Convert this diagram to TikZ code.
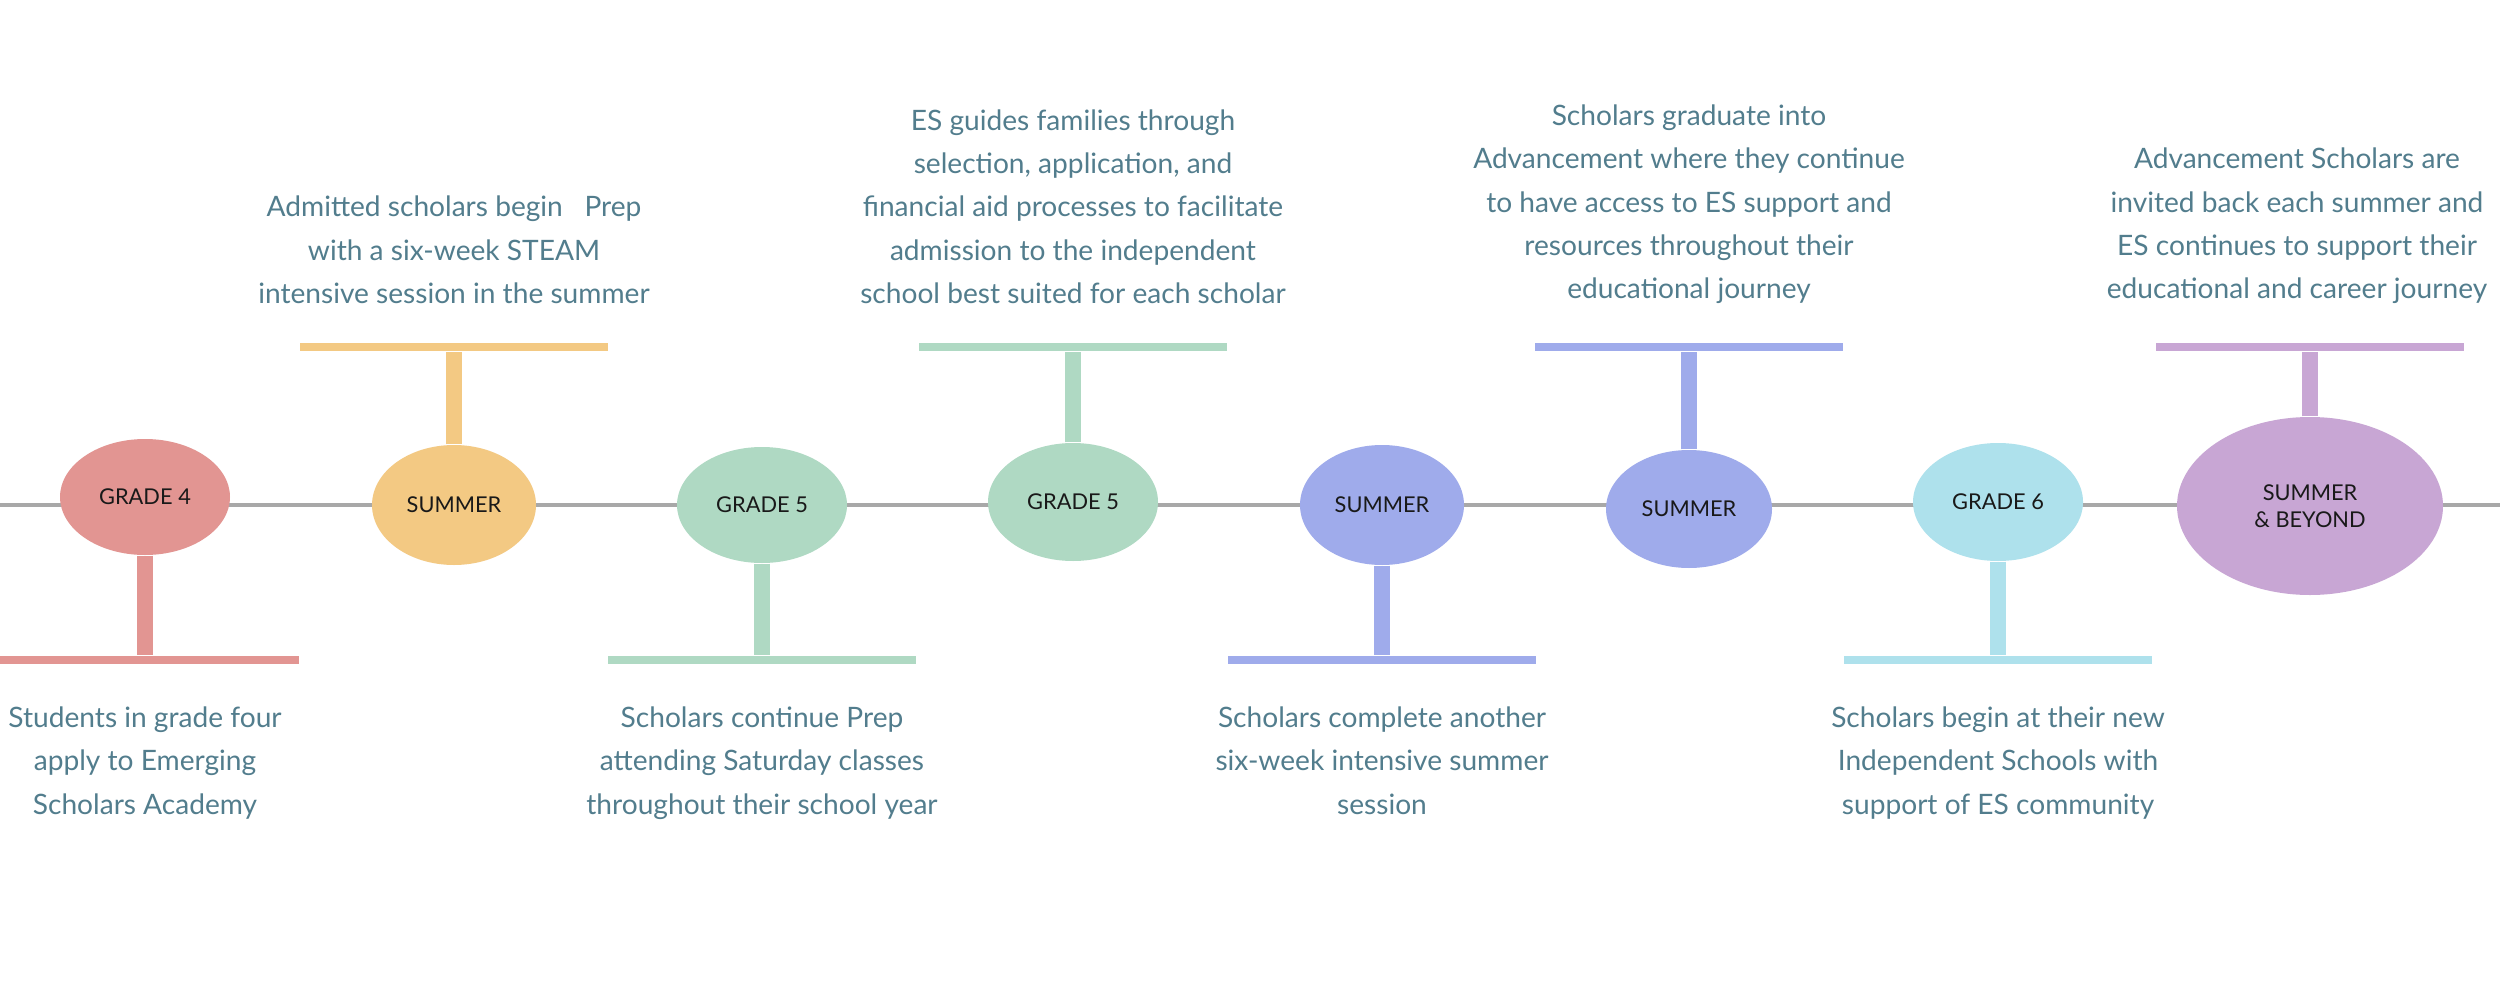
\documentclass[tikz,border=0pt]{standalone}
\usepackage{fontspec}
\setmainfont{Lato}
\usetikzlibrary{
  backgrounds,
  positioning,
  shapes.geometric
}
\definecolor{rose}{RGB}{226,149,146}
\definecolor{sand}{RGB}{243,201,131}
\definecolor{mint}{RGB}{175,217,195}
\definecolor{iris}{RGB}{159,171,235}
\definecolor{sky}{RGB}{174,225,236}
\definecolor{lilac}{RGB}{200,166,212}
\definecolor{slate}{RGB}{82,125,141}
\definecolor{railgray}{RGB}{168,168,168}
\tikzset{
  stage/.style={
    ellipse,
    fill=#1,
    inner sep=0pt,
    minimum width=1.70cm,
    minimum height=1.16cm,
    align=center,
    text=black!90,
    font=\fontsize{6.2}{7.6}\selectfont
  },
  bar/.style={fill=#1,inner sep=0pt,minimum width=3.08cm,minimum height=0.08cm},
  stem/.style={draw=#1,line width=0.16cm},
  rail/.style={draw=railgray,line width=0.035cm},
  note/.style={
    align=center,
    inner sep=0pt,
    text=slate,
    font=\fontsize{8.0}{12.3}\selectfont
  }
}

\begin{document}
\begin{tikzpicture}
  \useasboundingbox (0,0) rectangle (25,-9.99);
  \coordinate (start) at (0,-5.05);
  \coordinate (end) at (25,-5.05);
  \coordinate (high) at (0,-3.47);
  \coordinate (low) at (0,-6.595);

  \node[stage=rose] (grade4) at (1.45,-4.97) {GRADE 4};
  \node[stage=sand,minimum width=1.64cm,minimum height=1.20cm] (summer1) at (4.54,-5.05) {SUMMER};
  \node[stage=mint] (grade5a) at (7.62,-5.05) {GRADE 5};
  \node[stage=mint,minimum height=1.18cm] (grade5b) at (10.73,-5.02) {GRADE 5};
  \node[stage=iris,minimum width=1.64cm,minimum height=1.20cm] (summer2) at (13.82,-5.05) {SUMMER};
  \node[stage=iris,minimum width=1.66cm,minimum height=1.18cm] (summer3) at (16.89,-5.09) {SUMMER};
  \node[stage=sky,minimum height=1.18cm] (grade6) at (19.98,-5.02) {GRADE 6};
  \node[stage=lilac,minimum width=2.66cm,minimum height=1.78cm] (beyond) at (23.10,-5.06) {SUMMER\\\& BEYOND};

  \node[bar=rose] (grade4bar) at (grade4 |- low) {};
  \node[bar=sand] (summer1bar) at (summer1 |- high) {};
  \node[bar=mint] (grade5abar) at (grade5a |- low) {};
  \node[bar=mint] (grade5bbar) at (grade5b |- high) {};
  \node[bar=iris] (summer2bar) at (summer2 |- low) {};
  \node[bar=iris] (summer3bar) at (summer3 |- high) {};
  \node[bar=sky] (grade6bar) at (grade6 |- low) {};
  \node[bar=lilac] (beyondbar) at (beyond |- high) {};

  \node[note,below=0.42cm of grade4bar] (grade4note)
    {Students in grade four\\apply to Emerging\\Scholars Academy};
  \node[note,above=0.38cm of summer1bar] (summer1note)
    {Admitted scholars begin~~~Prep\\with a six-week STEAM\\intensive session in the summer};
  \node[note,below=0.42cm of grade5abar] (grade5anote)
    {Scholars continue Prep\\attending Saturday classes\\throughout their school year};
  \node[note,above=0.38cm of grade5bbar] (grade5bnote)
    {ES guides families through\\selection, application, and\\financial aid processes to facilitate\\admission to the independent\\school best suited for each scholar};
  \node[note,below=0.42cm of summer2bar] (summer2note)
    {Scholars complete another\\six-week intensive summer\\session};
  \node[note,above=0.38cm of summer3bar] (summer3note)
    {Scholars graduate into\\Advancement where they continue\\to have access to ES support and\\resources throughout their\\educational journey};
  \node[note,below=0.42cm of grade6bar] (grade6note)
    {Scholars begin at their new\\Independent Schools with\\support of ES community};
  \node[note,above=0.38cm of beyondbar,xshift=-0.13cm] (beyondnote)
    {Advancement Scholars are\\invited back each summer and\\ES continues to support their\\educational and career journey};

  \begin{scope}[on background layer]
    \fill[white] (0,0) rectangle (25,-9.99);
    \draw[rail] (start) -- (end);
    \draw[stem=rose] (grade4) -- (grade4bar);
    \draw[stem=sand] (summer1) -- (summer1bar);
    \draw[stem=mint] (grade5a) -- (grade5abar);
    \draw[stem=mint] (grade5b) -- (grade5bbar);
    \draw[stem=iris] (summer2) -- (summer2bar);
    \draw[stem=iris] (summer3) -- (summer3bar);
    \draw[stem=sky] (grade6) -- (grade6bar);
    \draw[stem=lilac] (beyond) -- (beyondbar);
  \end{scope}
\end{tikzpicture}
\end{document}
